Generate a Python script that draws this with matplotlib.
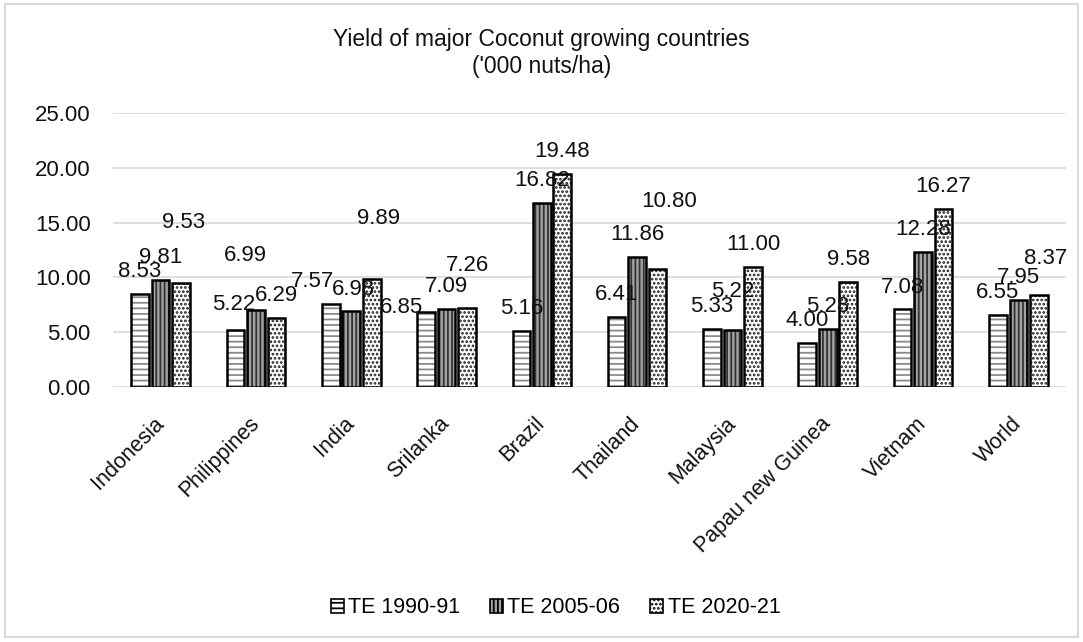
import numpy as np
import matplotlib.pyplot as plt
from matplotlib.patches import Patch, Rectangle

plt.rcParams['font.family'] = ['Liberation Sans', 'DejaVu Sans']
plt.rcParams['hatch.linewidth'] = 1.3

countries = ["Indonesia", "Philippines", "India", "Srilanka", "Brazil",
             "Thailand", "Malaysia", "Papau new Guinea", "Vietnam", "World"]
te_1990 = [8.53, 5.22, 7.57, 6.85, 5.16, 6.41, 5.33, 4.00, 7.08, 6.55]
te_2005 = [9.81, 6.99, 6.98, 7.09, 16.82, 11.86, 5.22, 5.28, 12.28, 7.95]
te_2020 = [9.53, 6.29, 9.89, 7.26, 19.48, 10.80, 11.00, 9.58, 16.27, 8.37]
series_names = ["TE 1990-91", "TE 2005-06", "TE 2020-21"]
yticks = [0, 5, 10, 15, 20, 25]

# fill, hatch pattern, hatch colour for each period
styles = [("white", "---", "#8a8a8a"),
          ("#a3a3a3", "||||", "#333333"),
          ("white", "....", "#1e1e1e")]

# hand-placed data labels: (series, country) -> (dx, dy)
label_nudge = {
    (2, 0): (0.03, 5.5), (0, 1): (-0.02, 2.3), (1, 1): (-0.11, 5.0),
    (0, 2): (-0.19, 2.1), (1, 2): (0.02, 1.9), (2, 2): (0.07, 5.5),
    (0, 3): (-0.26, 0.45), (2, 3): (0.01, 3.85), (2, 5): (0.12, 6.1),
    (1, 6): (0.0, 3.5), (2, 9): (0.07, 3.4),
}

fig = plt.figure(figsize=(10.83, 6.42), dpi=100)
fig.patches.append(Rectangle((0.005, 0.008), 0.99, 0.985, transform=fig.transFigure,
                             fill=False, edgecolor="#d9d9d9", linewidth=1.5))
ax = fig.add_axes([0.1043, 0.397, 0.88, 0.427])

x = np.arange(len(countries))
width = 0.185
step = 0.215
data = [te_1990, te_2005, te_2020]
for i, vals in enumerate(data):
    face, hatch, hcol = styles[i]
    pos = x + (i - 1) * step
    ax.bar(pos, vals, width, color=face, edgecolor=hcol, hatch=hatch,
           linewidth=0, zorder=2)
    ax.bar(pos, vals, width, fill=False, edgecolor="black", linewidth=1.8, zorder=3)
    for j, v in enumerate(vals):
        dx, dy = label_nudge.get((i, j), (0.0, 2.05))
        ax.text(pos[j] + dx, v + dy, f"{v:.2f}", ha="center", va="center",
                fontsize=16, color="#111111", zorder=4)

ax.set_xlim(-0.5, len(countries) - 0.5)
ax.set_ylim(0, 25)
ax.set_yticks(yticks)
ax.set_yticklabels([f"{t:.2f}" for t in yticks], fontsize=16, color="#111111")
ax.set_xticks(x)
ax.set_xticklabels(countries, rotation=45, ha="right", va="center",
                   rotation_mode="anchor", fontsize=15.5, color="#111111")
ax.tick_params(axis="both", length=0)
ax.tick_params(axis="y", pad=16)
ax.tick_params(axis="x", pad=24)
ax.grid(axis="y", color="#d9d9d9", linewidth=1.2, zorder=0)
for s in ax.spines.values():
    s.set_visible(False)

fig.text(0.5, 0.917, "Yield of major Coconut growing countries\n('000 nuts/ha)",
         ha="center", va="center", fontsize=16.5, color="#111111", linespacing=1.2)

handles = [Patch(facecolor=f, edgecolor="black", hatch=h, linewidth=1.2)
           for f, h, _ in styles]
fig.legend(handles, series_names, loc="center", bbox_to_anchor=(0.513, 0.053),
           ncol=3, frameon=False, fontsize=15.5, handlelength=0.6, handleheight=0.6,
           handletextpad=0.2, columnspacing=1.4)

fig.savefig("out.png", dpi=100)
